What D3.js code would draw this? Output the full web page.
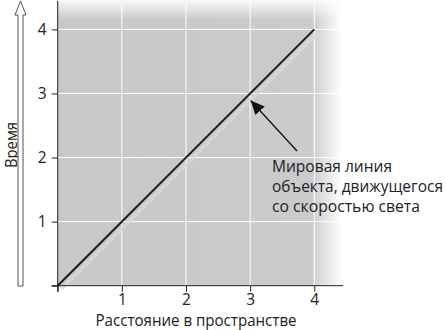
<!DOCTYPE html>
<html><head><meta charset="utf-8">
<script src="https://cdn.jsdelivr.net/npm/d3@7"></script>
<style>
html,body{margin:0;padding:0;background:#fff;}
svg{display:block;}
text{font-family:"Open Sans","Noto Sans",sans-serif;fill:#222;}
</style></head><body>
<svg id="c" width="446" height="330"></svg>
<script>
const xTicks = [1, 2, 3, 4];
const yTicks = [1, 2, 3, 4];
const lineX = [0, 4];
const lineT = [0, 4];
const xLabel = "Расстояние в пространстве";
const yLabel = "Время";
const annotation = ["Мировая линия", "объекта, движущегося", "со скоростью света"];
const annotWidths = [120, 171, 148];
const annotPoint = [3, 3];

const svg = d3.select("#c");
const x = d3.scaleLinear().domain([0, 4]).range([57.7, 314.3]);
const y = d3.scaleLinear().domain([0, 4]).range([285.7, 29.4]);
const plotRight = 346, plotTop = 0;

const defs = svg.append("defs");
const gh = defs.append("linearGradient").attr("id", "gh").attr("x1", 0).attr("x2", 1).attr("y1", 0).attr("y2", 0);
gh.append("stop").attr("offset", 0).attr("stop-color", "#c7c8ca");
gh.append("stop").attr("offset", 0.88).attr("stop-color", "#cacbcd");
gh.append("stop").attr("offset", 0.985).attr("stop-color", "#ffffff");
gh.append("stop").attr("offset", 1).attr("stop-color", "#ffffff");
const gv = defs.append("linearGradient").attr("id", "gv").attr("x1", 0).attr("x2", 0).attr("y1", 0).attr("y2", 1);
gv.append("stop").attr("offset", 0).attr("stop-color", "#fff").attr("stop-opacity", 0.9);
gv.append("stop").attr("offset", 1).attr("stop-color", "#fff").attr("stop-opacity", 0);
defs.append("marker").attr("id", "ah").attr("viewBox", "0 0 10 10").attr("refX", 10).attr("refY", 5)
  .attr("markerWidth", 14).attr("markerHeight", 14).attr("markerUnits", "userSpaceOnUse").attr("orient", "auto")
  .append("path").attr("d", "M0,0.5 L10,5 L0,9.5 Z").attr("fill", "#111");

const x0 = x(0), y0 = y(0);
svg.append("rect").attr("x", x0).attr("y", plotTop).attr("width", plotRight - x0).attr("height", y0 - plotTop).attr("fill", "url(#gh)");
svg.append("rect").attr("x", x0).attr("y", plotTop).attr("width", plotRight - x0).attr("height", 20).attr("fill", "url(#gv)");

// grid
svg.append("g").selectAll("line").data(xTicks).join("line")
  .attr("x1", d => x(d)).attr("x2", d => x(d)).attr("y1", plotTop + 2).attr("y2", y0)
  .attr("stroke", "#fff").attr("stroke-width", 1);
svg.append("g").selectAll("line").data(yTicks).join("line")
  .attr("x1", x0).attr("x2", plotRight - 3).attr("y1", d => y(d)).attr("y2", d => y(d))
  .attr("stroke", "#fff").attr("stroke-width", 1);

// shadow of world line
const pts = lineX.map((v, i) => [v, lineT[i]]);
svg.append("path").datum(pts)
  .attr("d", d3.line().x(d => x(d[0]) + 4).y(d => y(d[1]) + 3))
  .attr("stroke", "#d8d9db").attr("stroke-width", 4).attr("fill", "none").attr("opacity", 0.7);
svg.append("path").datum(pts)
  .attr("d", d3.line().x(d => x(d[0])).y(d => y(d[1])))
  .attr("stroke", "#1a1a1a").attr("stroke-width", 2).attr("fill", "none");

// axes
const xAxis = svg.append("g").attr("transform", `translate(0,${y0})`)
  .call(d3.axisBottom(x).tickValues([0, ...xTicks]).tickSize(6).tickPadding(2).tickFormat(d => d === 0 ? "" : d));
xAxis.select(".domain").attr("d", `M${x0 - 6},0H${plotRight - 3}`).attr("stroke", "#222");
const yAxis = svg.append("g").attr("transform", `translate(${x0},0)`)
  .call(d3.axisLeft(y).tickValues([0, ...yTicks]).tickSize(6).tickPadding(5).tickFormat(d => d === 0 ? "" : d));
yAxis.select(".domain").attr("d", `M0,${y0 + 6}V${plotTop + 1}`).attr("stroke", "#222");
[xAxis, yAxis].forEach(a => {
  a.selectAll(".tick line").attr("stroke", "#222");
  a.selectAll("text").style("font-family", "'Open Sans','Noto Sans',sans-serif").attr("font-size", 15.5).attr("fill", "#222");
});

// axis labels
svg.append("text").attr("x", 196).attr("y", 326).attr("text-anchor", "middle").attr("font-size", 16)
  .attr("textLength", 201).attr("lengthAdjust", "spacingAndGlyphs").text(xLabel);
svg.append("text").attr("transform", "translate(17,145) rotate(-90)").attr("text-anchor", "middle").attr("font-size", 16.5)
  .attr("textLength", 46).attr("lengthAdjust", "spacingAndGlyphs").text(yLabel);

// hollow arrow on left
const ax = 20.5;
svg.append("path")
  .attr("d", `M${ax - 2.5},286 V15 H${ax - 5.5} L${ax},1 L${ax + 5.5},15 H${ax + 2.5} V286 Z`)
  .attr("fill", "#fff").attr("stroke", "#555").attr("stroke-width", 1);

// annotation
const [px, py] = [x(annotPoint[0]), y(annotPoint[1])];
svg.append("line").attr("x1", 297).attr("y1", 151).attr("x2", px + 0.5).attr("y2", py + 7)
  .attr("stroke", "#111").attr("stroke-width", 1.3).attr("marker-end", "url(#ah)");
svg.append("g").selectAll("text").data(annotation).join("text")
  .attr("x", 272).attr("y", (d, i) => 172 + i * 20).attr("font-size", 15.5)
  .attr("textLength", (d, i) => annotWidths[i]).attr("lengthAdjust", "spacingAndGlyphs").text(d => d);
</script>
</body></html>
